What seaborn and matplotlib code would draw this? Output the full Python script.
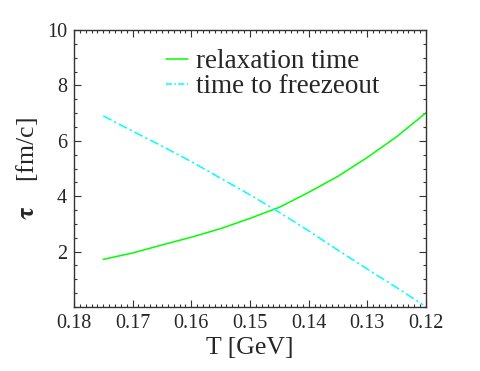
import numpy as np
import pandas as pd
import matplotlib
matplotlib.use("Agg")
import matplotlib.pyplot as plt
import seaborn as sns
from matplotlib.ticker import MultipleLocator, FormatStrFormatter

# temperature [GeV] and times [fm/c]
T_relax = [0.175, 0.170, 0.165, 0.160, 0.155, 0.150, 0.145, 0.140, 0.135, 0.130, 0.125, 0.120]
tau_relax = [1.72, 1.95, 2.24, 2.52, 2.83, 3.20, 3.60, 4.14, 4.72, 5.40, 6.15, 7.01]

T_freeze = [0.175, 0.170, 0.165, 0.160, 0.155, 0.150, 0.145, 0.140, 0.135, 0.130, 0.125, 0.1205]
tau_freeze = [6.90, 6.35, 5.81, 5.25, 4.65, 4.05, 3.42, 2.75, 2.05, 1.37, 0.70, 0.08]

df_relax = pd.DataFrame({"T": T_relax, "tau": tau_relax})
df_freeze = pd.DataFrame({"T": T_freeze, "tau": tau_freeze})

sns.set_style("ticks")
plt.rcParams['font.family'] = ['Liberation Serif', 'DejaVu Serif']
plt.rcParams['mathtext.fontset'] = 'stix'

fig = plt.figure(figsize=(4.8, 3.71), dpi=100)
ax = fig.add_axes([0.154, 0.1725, 0.7335, 0.7465])

sns.lineplot(data=df_relax, x="T", y="tau", ax=ax, color="#00ff00", lw=1.1,
             label="relaxation time", sort=False)
sns.lineplot(data=df_freeze, x="T", y="tau", ax=ax, color="#00ffff", lw=1.1,
             label="time to freezeout", sort=False)

ax.set_xlim(0.18, 0.12)
ax.set_ylim(0, 10)
ax.xaxis.set_major_locator(MultipleLocator(0.01))
ax.xaxis.set_minor_locator(MultipleLocator(0.001))
ax.xaxis.set_major_formatter(FormatStrFormatter("%.2f"))
ax.yaxis.set_major_locator(MultipleLocator(2))
ax.yaxis.set_minor_locator(MultipleLocator(0.5))
ax.set_yticks([2, 4, 6, 8, 10])

ax.tick_params(which="both", direction="in", top=True, right=True, labelsize=14.5,
               color="#333333", width=0.8, pad=5)
ax.tick_params(which="major", length=5)
ax.tick_params(which="minor", length=2.5)
for s in ax.spines.values():
    s.set_linewidth(1.0)
    s.set_color("#333333")

ax.set_xlabel("T [GeV]", fontsize=18.5, labelpad=3)
ax.set_ylabel(r"$\mathbf{\tau}$    [fm/c]", fontsize=18.5, labelpad=5)

leg = ax.legend(loc="upper left", bbox_to_anchor=(0.232, 0.97), frameon=False,
                fontsize=19.5, handlelength=0.8, handletextpad=0.3, labelspacing=0.0,
                borderaxespad=0)
ax.lines[1].set_dashes([6, 2, 1.5, 2])
leg.get_lines()[1].set_dashes([4, 1.5, 1, 1.5])

fig.savefig("out.png", dpi=100)
